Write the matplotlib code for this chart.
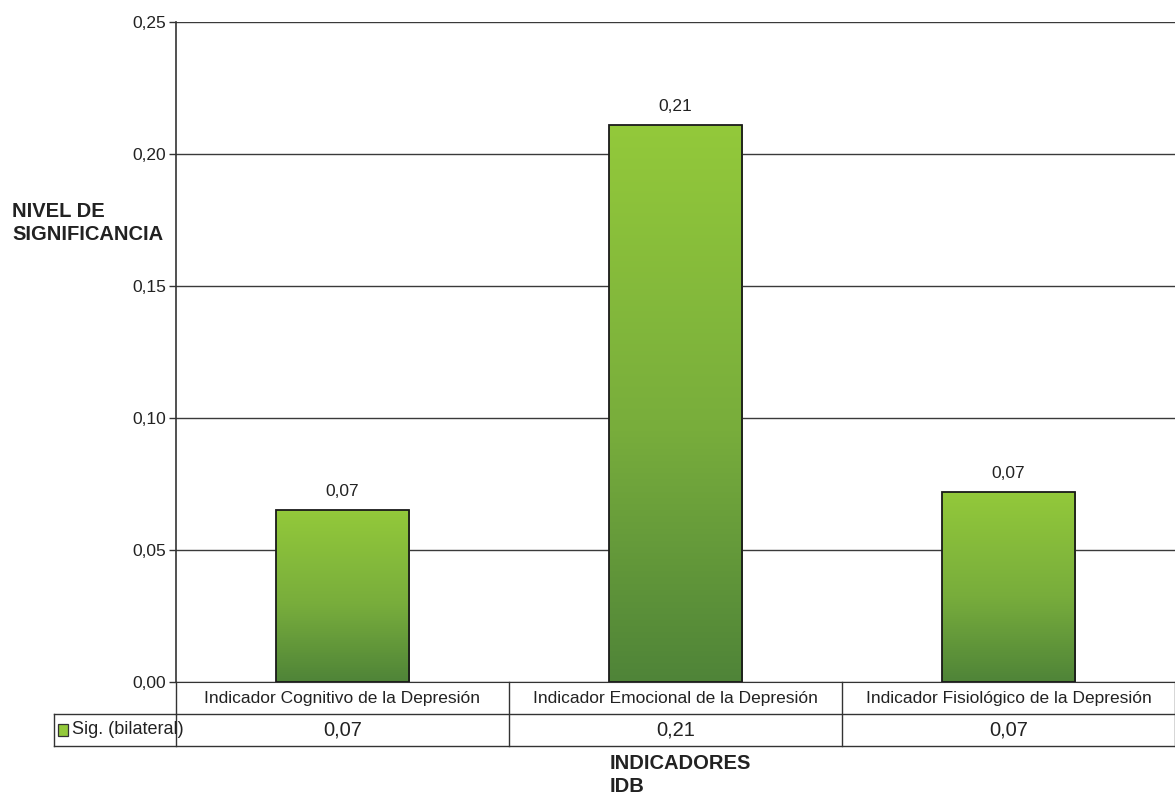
import numpy as np
import matplotlib.pyplot as plt
from matplotlib.colors import LinearSegmentedColormap
from matplotlib.patches import Rectangle

plt.rcParams['font.family'] = ['Liberation Sans', 'DejaVu Sans']

categorias = ['Indicador Cognitivo de la Depresión',
              'Indicador Emocional de la Depresión',
              'Indicador Fisiológico de la Depresión']
sig_bilateral = [0.065, 0.211, 0.072]
serie = 'Sig. (bilateral)'
yticks = [0.00, 0.05, 0.10, 0.15, 0.20, 0.25]


def coma(v):
    return f'{v:.2f}'.replace('.', ',')


verde = LinearSegmentedColormap.from_list(
    'verde', [(0, '#4f8438'), (0.45, '#78ad3c'), (1, '#93c93a')])

fig = plt.figure(figsize=(11.75, 8), dpi=100)
ax = fig.add_axes([176 / 1175, 118 / 800, 999 / 1175, 660 / 800])

x = np.arange(len(categorias))
barras = ax.bar(x, sig_bilateral, width=0.4, color='none', edgecolor='#1a1a1a',
                linewidth=1.3, zorder=3)

# relleno degradado dentro de cada barra
grad = np.linspace(0, 1, 256).reshape(-1, 1)
for b in barras:
    x0, w, h = b.get_x(), b.get_width(), b.get_height()
    im = ax.imshow(grad, cmap=verde, origin='lower', aspect='auto',
                   extent=(x0, x0 + w, 0, h), zorder=2)
    im.set_clip_path(b)
    ax.annotate(coma(h), (x0 + w / 2, h), xytext=(0, 8), textcoords='offset points',
                ha='center', va='bottom', fontsize=12.5, color='#222222')

ax.set_xlim(-0.5, 2.5)
ax.set_ylim(0, 0.25)
ax.set_yticks(yticks)
ax.set_yticklabels([coma(t) for t in yticks], fontsize=12.5, color='#222222')
ax.set_xticks([])
ax.tick_params(axis='y', length=5, width=1, color='#333333', pad=2)
ax.grid(axis='y', color='#3a3a3a', linewidth=1)
ax.set_axisbelow(True)
for s in ['top', 'right']:
    ax.spines[s].set_visible(False)
ax.spines['left'].set_color('#333333')
ax.spines['bottom'].set_color('#333333')
ax.spines['left'].set_linewidth(1.2)

# tabla de datos bajo el eje
t = ax.transAxes
f1, f2 = -32 / 660, -64 / 660
xh = (54 - 176) / 999
kw = dict(transform=t, color='#333333', linewidth=1, clip_on=False)
ax.plot([0, 1], [f1, f1], **kw)
ax.plot([xh, 1], [f2, f2], **kw)
ax.plot([xh, 0], [f1, f1], **kw)
ax.plot([xh, xh], [f1, f2], **kw)
for i in range(len(categorias) + 1):
    ax.plot([i / 3, i / 3], [0, f2], **kw)
for i, (cat, v) in enumerate(zip(categorias, sig_bilateral)):
    cx = (i + 0.5) / 3
    ax.text(cx, f1 / 2, cat, transform=t, ha='center', va='center',
            fontsize=12.5, color='#222222')
    ax.text(cx, (f1 + f2) / 2, coma(v), transform=t, ha='center', va='center',
            fontsize=14.5, color='#222222')

ax.add_patch(Rectangle((xh + 0.004, (f1 + f2) / 2 - 0.009), 0.010, 0.018,
                       transform=t, facecolor='#93c93a', edgecolor='#333333',
                       linewidth=0.9, clip_on=False))
ax.text(xh + 0.018, (f1 + f2) / 2, serie, transform=t, ha='left', va='center',
        fontsize=13, color='#222222')

fig.text(12 / 1175, 1 - 223 / 800, 'NIVEL DE\nSIGNIFICANCIA', ha='left', va='center',
         fontsize=14.5, fontweight='bold', color='#222222', linespacing=1.25)
fig.text(610 / 1175, 1 - 775 / 800, 'INDICADORES\nIDB', ha='left', va='center',
         fontsize=14.5, fontweight='bold', color='#222222', linespacing=1.25)

fig.savefig('out.png', dpi=100)
